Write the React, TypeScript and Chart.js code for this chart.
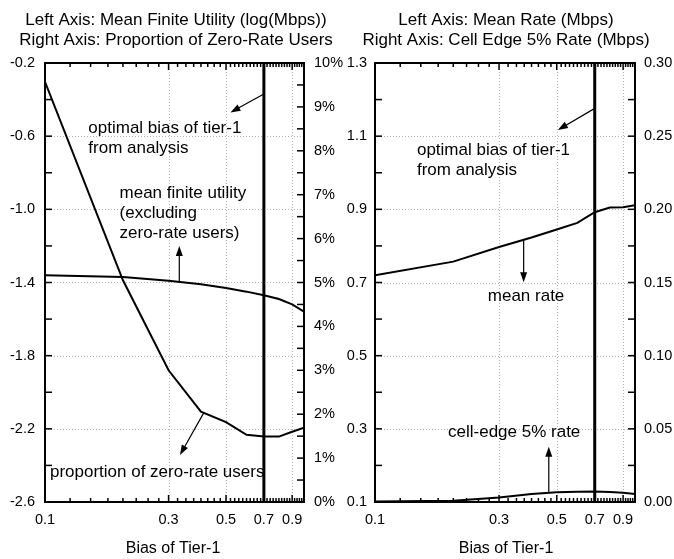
import React, { useEffect, useRef } from "react";
import { Chart, registerables } from "chart.js";

Chart.register(...registerables);

// ---------------- data ----------------
const BIAS = [0.1, 0.2, 0.3, 0.4, 0.5, 0.6, 0.7, 0.8, 0.9, 1.0];
const MEAN_FINITE_UTILITY = [-1.36, -1.37, -1.39, -1.41, -1.43, -1.45, -1.47, -1.49, -1.52, -1.56];
const ZERO_RATE_PCT = [9.57, 5.05, 3.0, 2.06, 1.82, 1.53, 1.49, 1.49, 1.6, 1.69];
const MEAN_RATE = [0.72, 0.757, 0.797, 0.823, 0.845, 0.863, 0.892, 0.905, 0.906, 0.911];
const CELL_EDGE_RATE = [0.0003, 0.0008, 0.003, 0.0055, 0.0066, 0.007, 0.0071, 0.0069, 0.0063, 0.0055];
const OPTIMAL_BIAS = 0.7;

const X_TICKS = [0.1, 0.3, 0.5, 0.7, 0.9];
const X_MINOR = [
  0.125, 0.15, 0.175, 0.2, 0.225, 0.25, 0.275,
  0.325, 0.35, 0.375, 0.4, 0.425, 0.45, 0.475,
  0.52, 0.54, 0.56, 0.58, 0.6, 0.62, 0.64, 0.66, 0.68,
  0.72, 0.74, 0.76, 0.78, 0.8, 0.82, 0.84, 0.86, 0.88,
  0.92, 0.94, 0.96, 0.98,
];

const UTIL_TICKS = [-2.6, -2.2, -1.8, -1.4, -1.0, -0.6, -0.2];
const UTIL_MINOR = [-2.4, -2.0, -1.6, -1.2, -0.8, -0.4];
const PCT_TICKS = [0, 1, 2, 3, 4, 5, 6, 7, 8, 9, 10];
const PCT_MINOR = [0.5, 1.5, 2.5, 3.5, 4.5, 5.5, 6.5, 7.5, 8.5, 9.5];
const RATE_TICKS = [0.1, 0.3, 0.5, 0.7, 0.9, 1.1, 1.3];
const RATE_MINOR = [0.2, 0.4, 0.6, 0.8, 1.0, 1.2];
const EDGE_TICKS = [0, 0.05, 0.1, 0.15, 0.2, 0.25, 0.3];
const EDGE_MINOR = [0.025, 0.075, 0.125, 0.175, 0.225, 0.275];

const FONT = '"Liberation Sans", Arial, Helvetica, sans-serif';
const INK = "#000";

type Arrow = { from: [number, number]; to: [number, number]; axis: "y" | "y2" };
type Label = { x: number; y: number; axis: "y" | "y2"; lines: string[]; align: "left" | "center" };
type PanelSpec = {
  titles: string[];
  titleX: number;
  xTitle: string;
  xTitleX: number;
  yTicks: number[];
  yMinor: number[];
  y2Ticks: number[];
  y2Minor: number[];
  arrows: Arrow[];
  labels: Label[];
};

function drawArrow(ctx: CanvasRenderingContext2D, x1: number, y1: number, x2: number, y2: number) {
  const ang = Math.atan2(y2 - y1, x2 - x1);
  const L = 10;
  const W = 3.5;
  const c = Math.cos(ang);
  const s = Math.sin(ang);
  ctx.save();
  ctx.strokeStyle = INK;
  ctx.fillStyle = INK;
  ctx.lineWidth = 1.2;
  ctx.beginPath();
  ctx.moveTo(x1, y1);
  ctx.lineTo(x2 - c * L * 0.7, y2 - s * L * 0.7);
  ctx.stroke();
  ctx.beginPath();
  ctx.moveTo(x2, y2);
  ctx.lineTo(x2 - L * c + W * s, y2 - L * s - W * c);
  ctx.lineTo(x2 - L * c - W * s, y2 - L * s + W * c);
  ctx.closePath();
  ctx.fill();
  ctx.restore();
}

function makePanelPlugin(spec: PanelSpec) {
  return {
    id: "panelDecor",
    beforeDatasetsDraw(chart: any) {
      const { ctx, chartArea: a, scales } = chart;
      ctx.save();
      ctx.strokeStyle = "#b4b4b4";
      ctx.lineWidth = 1;
      ctx.setLineDash([1, 2]);
      X_TICKS.forEach((v) => {
        const px = Math.round(scales.x.getPixelForValue(v)) + 0.5;
        if (px <= a.left + 2 || px >= a.right - 2) return;
        ctx.beginPath();
        ctx.moveTo(px, a.top);
        ctx.lineTo(px, a.bottom);
        ctx.stroke();
      });
      spec.yTicks.forEach((v) => {
        const py = Math.round(scales.y.getPixelForValue(v)) + 0.5;
        if (py <= a.top + 2 || py >= a.bottom - 2) return;
        ctx.beginPath();
        ctx.moveTo(a.left, py);
        ctx.lineTo(a.right, py);
        ctx.stroke();
      });
      ctx.restore();
    },
    afterDatasetsDraw(chart: any) {
      const { ctx, chartArea: a, scales } = chart;
      ctx.save();
      // optimal bias vertical line
      const vx = scales.x.getPixelForValue(OPTIMAL_BIAS);
      ctx.strokeStyle = INK;
      ctx.lineWidth = 3;
      ctx.beginPath();
      ctx.moveTo(vx, a.top);
      ctx.lineTo(vx, a.bottom);
      ctx.stroke();

      // ticks
      ctx.lineWidth = 1.5;
      const tick = (x1: number, y1: number, x2: number, y2: number) => {
        ctx.beginPath();
        ctx.moveTo(x1, y1);
        ctx.lineTo(x2, y2);
        ctx.stroke();
      };
      [...spec.yTicks, ...spec.yMinor].forEach((v) => {
        const py = scales.y.getPixelForValue(v);
        tick(a.left, py, a.left + 7, py);
      });
      [...spec.y2Ticks, ...spec.y2Minor].forEach((v) => {
        const py = scales.y2.getPixelForValue(v);
        tick(a.right - 7, py, a.right, py);
      });
      X_TICKS.forEach((v) => {
        const px = scales.x.getPixelForValue(v);
        tick(px, a.bottom, px, a.bottom - 7);
        tick(px, a.top, px, a.top + 7);
      });
      X_MINOR.forEach((v) => {
        const px = scales.x.getPixelForValue(v);
        tick(px, a.bottom, px, a.bottom - 4);
        tick(px, a.top, px, a.top + 4);
      });

      // border
      ctx.lineWidth = 2;
      ctx.strokeRect(a.left, a.top, a.right - a.left, a.bottom - a.top);

      // arrows
      spec.arrows.forEach((ar) => {
        const sy = scales[ar.axis];
        drawArrow(
          ctx,
          scales.x.getPixelForValue(ar.from[0]),
          sy.getPixelForValue(ar.from[1]),
          scales.x.getPixelForValue(ar.to[0]),
          sy.getPixelForValue(ar.to[1])
        );
      });

      // labels
      ctx.fillStyle = INK;
      ctx.textBaseline = "alphabetic";
      ctx.font = `17px ${FONT}`;
      spec.labels.forEach((lb) => {
        const px = scales.x.getPixelForValue(lb.x);
        const py = scales[lb.axis].getPixelForValue(lb.y);
        ctx.textAlign = lb.align;
        lb.lines.forEach((t, i) => ctx.fillText(t, px, py + i * 20));
      });

      // titles
      ctx.textAlign = "center";
      ctx.font = `17px ${FONT}`;
      spec.titles.forEach((t, i) => ctx.fillText(t, spec.titleX, 25 + i * 19.5));
      ctx.font = `16px ${FONT}`;
      ctx.fillText(spec.xTitle, spec.xTitleX, 553);
      ctx.restore();
    },
  };
}

function ticksFrom(values: number[]) {
  return (s: any) => {
    s.ticks = values.map((v) => ({ value: v }));
  };
}

function buildConfig(opts: {
  width: number;
  left: number;
  right: number;
  s1: number[];
  s2: number[];
  yMin: number;
  yMax: number;
  y2Min: number;
  y2Max: number;
  yTicks: number[];
  y2Ticks: number[];
  yFmt: (v: number) => string;
  y2Fmt: (v: number) => string;
  yPad: number;
  y2Pad: number;
  plugin: any;
}) {
  const tickFont = { family: FONT, size: 14.5 };
  const grid = { display: false, drawTicks: false, tickLength: 0 };
  return {
    type: "line" as const,
    data: {
      datasets: [
        {
          data: BIAS.map((x, i) => ({ x, y: opts.s1[i] })),
          yAxisID: "y",
          borderColor: INK,
          borderWidth: 2,
          pointRadius: 0,
          tension: 0,
        },
        {
          data: BIAS.map((x, i) => ({ x, y: opts.s2[i] })),
          yAxisID: "y2",
          borderColor: INK,
          borderWidth: 2,
          pointRadius: 0,
          tension: 0,
        },
      ],
    },
    options: {
      responsive: false,
      animation: false,
      devicePixelRatio: 1,
      layout: { padding: { top: 63, left: 0, right: 0, bottom: 0 } },
      plugins: { legend: { display: false }, tooltip: { enabled: false }, title: { display: false } },
      scales: {
        x: {
          type: "logarithmic",
          position: "bottom",
          min: 0.1,
          max: 1,
          afterFit: (s: any) => {
            s.height = 57;
          },
          afterBuildTicks: ticksFrom(X_TICKS),
          grid,
          border: { display: false },
          ticks: {
            autoSkip: false,
            maxRotation: 0,
            padding: 9,
            color: INK,
            font: tickFont,
            callback: (v: any) => String(v),
          },
        },
        y: {
          type: "linear",
          position: "left",
          min: opts.yMin,
          max: opts.yMax,
          afterFit: (s: any) => {
            s.width = opts.left;
          },
          afterBuildTicks: ticksFrom(opts.yTicks),
          grid,
          border: { display: false },
          ticks: { padding: opts.yPad, color: INK, font: tickFont, callback: (v: any) => opts.yFmt(Number(v)) },
        },
        y2: {
          type: "linear",
          position: "right",
          min: opts.y2Min,
          max: opts.y2Max,
          afterFit: (s: any) => {
            s.width = opts.width - opts.right;
          },
          afterBuildTicks: ticksFrom(opts.y2Ticks),
          grid,
          border: { display: false },
          ticks: { padding: opts.y2Pad, color: INK, font: tickFont, callback: (v: any) => opts.y2Fmt(Number(v)) },
        },
      },
    },
    plugins: [opts.plugin],
  };
}

const LEFT_W = 352;
const RIGHT_W = 337;
const H = 559;

function UtilityPanel() {
  const ref = useRef<HTMLCanvasElement>(null);
  useEffect(() => {
    const plugin = makePanelPlugin({
      titles: ["Left Axis: Mean Finite Utility (log(Mbps))", "Right Axis: Proportion of Zero-Rate Users"],
      titleX: 176,
      xTitle: "Bias of Tier-1",
      xTitleX: 173,
      yTicks: UTIL_TICKS,
      yMinor: UTIL_MINOR,
      y2Ticks: PCT_TICKS,
      y2Minor: PCT_MINOR,
      arrows: [
        { from: [0.7, -0.37], to: [0.52, -0.47], axis: "y" },
        { from: [0.33, -1.395], to: [0.33, -1.2], axis: "y" },
        { from: [0.41, 2.03], to: [0.332, 1.07], axis: "y2" },
      ],
      labels: [
        { x: 0.147, y: -0.583, axis: "y", lines: ["optimal bias of tier-1", "from analysis"], align: "left" },
        { x: 0.194, y: -0.938, axis: "y", lines: ["mean finite utility", "(excluding", "zero-rate users)"], align: "left" },
        { x: 0.1045, y: 0.57, axis: "y2", lines: ["proportion of zero-rate users"], align: "left" },
      ],
    });
    const chart = new Chart(
      ref.current!,
      buildConfig({
        width: LEFT_W,
        left: 45,
        right: 304,
        s1: MEAN_FINITE_UTILITY,
        s2: ZERO_RATE_PCT,
        yMin: -2.6,
        yMax: -0.2,
        y2Min: 0,
        y2Max: 10,
        yTicks: UTIL_TICKS,
        y2Ticks: PCT_TICKS,
        yFmt: (v) => v.toFixed(1),
        y2Fmt: (v) => `${Math.round(v)}%`,
        yPad: 10,
        y2Pad: 10,
        plugin,
      }) as any
    );
    return () => chart.destroy();
  }, []);
  return (
    <canvas
      ref={ref}
      width={LEFT_W}
      height={H}
      style={{ position: "absolute", left: 0, top: 0, width: LEFT_W, height: H }}
    />
  );
}

function RatePanel() {
  const ref = useRef<HTMLCanvasElement>(null);
  useEffect(() => {
    const plugin = makePanelPlugin({
      titles: ["Left Axis: Mean Rate (Mbps)", "Right Axis: Cell Edge 5% Rate (Mbps)"],
      titleX: 169,
      xTitle: "Bias of Tier-1",
      xTitleX: 169,
      yTicks: RATE_TICKS,
      yMinor: RATE_MINOR,
      y2Ticks: EDGE_TICKS,
      y2Minor: EDGE_MINOR,
      arrows: [
        { from: [0.7, 1.176], to: [0.505, 1.117], axis: "y" },
        { from: [0.373, 0.817], to: [0.373, 0.701], axis: "y" },
        { from: [0.466, 0.0068], to: [0.466, 0.0378], axis: "y2" },
      ],
      labels: [
        { x: 0.145, y: 1.049, axis: "y", lines: ["optimal bias of tier-1", "from analysis"], align: "left" },
        { x: 0.381, y: 0.65, axis: "y", lines: ["mean rate"], align: "center" },
        { x: 0.343, y: 0.277, axis: "y", lines: ["cell-edge 5% rate"], align: "center" },
      ],
    });
    const chart = new Chart(
      ref.current!,
      buildConfig({
        width: RIGHT_W,
        left: 38,
        right: 298,
        s1: MEAN_RATE,
        s2: CELL_EDGE_RATE,
        yMin: 0.1,
        yMax: 1.3,
        y2Min: 0,
        y2Max: 0.3,
        yTicks: RATE_TICKS,
        y2Ticks: EDGE_TICKS,
        yFmt: (v) => v.toFixed(1),
        y2Fmt: (v) => v.toFixed(2),
        yPad: 8,
        y2Pad: 9,
        plugin,
      }) as any
    );
    return () => chart.destroy();
  }, []);
  return (
    <canvas
      ref={ref}
      width={RIGHT_W}
      height={H}
      style={{ position: "absolute", left: 337, top: 0, width: RIGHT_W, height: H }}
    />
  );
}

export default function App() {
  return (
    <div style={{ position: "fixed", left: 0, top: 0, width: 674, height: H, background: "#fff", overflow: "hidden" }}>
      <UtilityPanel />
      <RatePanel />
    </div>
  );
}
